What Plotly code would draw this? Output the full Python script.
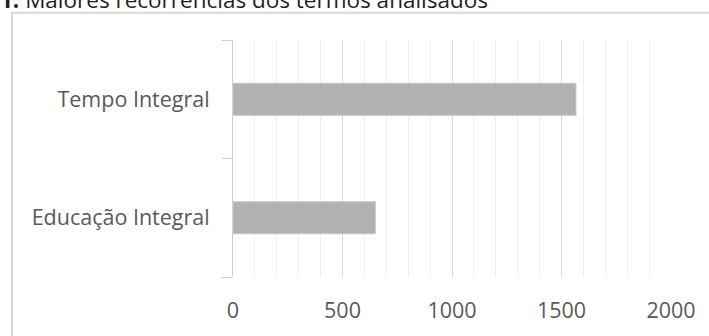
import plotly.graph_objects as go

# Occurrence counts of the analysed terms
categories = ["Educação Integral", "Tempo Integral"]
occurrences = [650, 1566]
x_tick_values = [0, 500, 1000, 1500, 2000]
x_tick_labels = ["0", "500", "1000", "1500", "2000"]

W, H = 709, 336
L, R, T, B = 233, 38, 40, 57
pw, ph = W - L - R, H - T - B


def px_x(px):
    return (px - L) / pw


def px_y(py):
    return (H - B - py) / ph


label_font = dict(family="Open Sans", size=21.5, color="#595959")

fig = go.Figure(
    go.Bar(
        x=occurrences,
        y=list(range(len(categories))),
        orientation="h",
        width=0.27,
        marker=dict(color="#b1b1b1", line=dict(color="#c9c9c9", width=1)),
        hoverinfo="skip",
    )
)

fig.update_layout(
    width=W,
    height=H,
    margin=dict(l=L, r=R, t=T, b=B),
    paper_bgcolor="white",
    plot_bgcolor="white",
    showlegend=False,
    xaxis=dict(
        range=[0, 2000],
        tickvals=x_tick_values,
        ticktext=x_tick_labels,
        showgrid=True,
        gridcolor="#d9d9d9",
        gridwidth=1,
        minor=dict(dtick=100, tick0=0, showgrid=True, gridcolor="#efefef", gridwidth=1),
        zeroline=False,
        showline=False,
        ticks="outside",
        ticklen=14,
        tickcolor="rgba(0,0,0,0)",
        tickfont=label_font,
        fixedrange=True,
    ),
    yaxis=dict(
        range=[-0.5, 1.5],
        tickvals=list(range(len(categories))),
        ticktext=categories,
        showgrid=False,
        zeroline=False,
        showline=True,
        linecolor="#cfcfcf",
        linewidth=1,
        ticks="",
        ticklabelstandoff=18,
        minor=dict(tick0=-0.5, dtick=1, ticks="outside", ticklen=10,
                   tickcolor="#cfcfcf", tickwidth=1, showgrid=False),
        tickfont=label_font,
        fixedrange=True,
    ),
    shapes=[
        dict(
            type="rect", xref="paper", yref="paper",
            x0=px_x(12), x1=px_x(760), y0=px_y(12.5), y1=px_y(400),
            line=dict(color="#d9d9d9", width=2), fillcolor="rgba(0,0,0,0)",
            layer="below",
        )
    ],
    annotations=[
        dict(
            text="<b>1.</b> Maiores recorrências dos termos analisados",
            xref="paper", yref="paper",
            x=px_x(-2), y=px_y(17),
            xanchor="left", yanchor="bottom",
            showarrow=False,
            font=dict(family="Open Sans", size=22.5, color="#1f1f1f"),
        )
    ],
)

fig.write_html("out.html", config={"displayModeBar": False})
